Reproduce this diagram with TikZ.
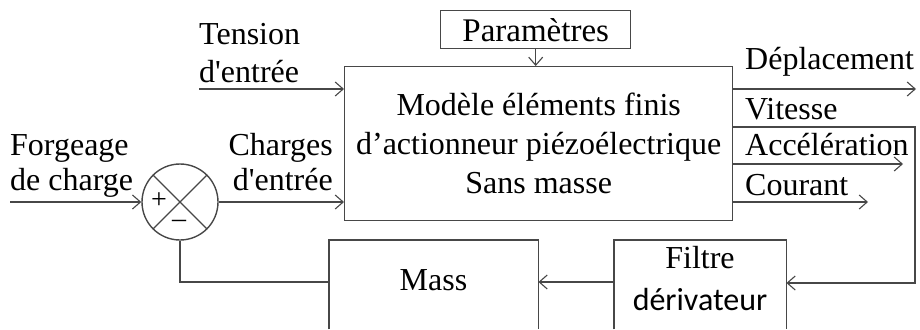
\documentclass[tikz,border=0pt]{standalone}
\usepackage{fontspec}
\newfontfamily\fa{Liberation Serif}
\newfontfamily\fc{Carlito}
\usetikzlibrary{arrows.meta}
\begin{document}
\begin{tikzpicture}[x=1pt,y=-1pt,
  line/.style={draw=black!72,line width=1.4pt},
  arr/.style={line,-{Straight Barb[length=8pt,width=14pt,line width=1.1pt]}},
  blk/.style={draw=black!72,line width=1.4pt,rectangle,inner sep=0pt},
  openbox/.style={rectangle,inner sep=0pt},
  lbl/.style={inner sep=0pt,font=\fa\fontsize{32}{39}\selectfont}]
\useasboundingbox (0,0) rectangle (920,329);
% blocks
\node[blk,lbl,anchor=north west,minimum width=388pt,minimum height=154pt,align=center] (model) at (344,66)
  {Modèle éléments finis\\d’actionneur piézoélectrique\\Sans masse};
\node[blk,lbl,anchor=north west,minimum width=190pt,minimum height=38pt,font=\fa\fontsize{33}{39}\selectfont] (param) at (440,10) {Paramètres};
\node[blk,circle,minimum size=76pt] (sum) at (180,202) {};
\draw[line,line width=1.1pt] (sum.north west) -- (sum.south east) (sum.north east) -- (sum.south west);
\node[lbl,font=\fa\fontsize{28}{30}\selectfont] (plus) at (159,201) {+};
\node[lbl,font=\fa\fontsize{28}{30}\selectfont] (minus) at (179,224) {–};
\node[openbox,anchor=north west,minimum width=209pt,minimum height=89pt] (mass) at (329,240) {};
\node[openbox,anchor=north west,minimum width=172pt,minimum height=89pt] (filtre) at (614,240) {};
\draw[line] (mass.south west) -- (mass.north west) -- (mass.north east) -- (mass.south east);
\draw[line] (filtre.south west) -- (filtre.north west) -- (filtre.north east) -- (filtre.south east);
\node[lbl,anchor=base] (masst) at (433.5,290) {Mass};
\node[lbl,anchor=base] (filtret) at (700,268) {Filtre};
\node[lbl,anchor=base,font=\fc\fontsize{32}{39}\selectfont] (derivt) at (700,310) {dérivateur};
% labels
\node[lbl,anchor=base west] (tension) at (199,45) {Tension};
\node[lbl,anchor=base west] (tension2) at (199,82) {d'entrée};
\node[lbl,anchor=base west] (forg) at (10,155) {Forgeage};
\node[lbl,anchor=base west] (forg2) at (10,190) {de charge};
\node[lbl,anchor=base east] (charg) at (333,155) {Charges};
\node[lbl,anchor=base east] (charg2) at (333,190) {d'entrée};
\node[lbl,anchor=base west] (depl) at (745,70) {Déplacement};
\node[lbl,anchor=base west] (vit) at (745,119) {Vitesse};
\node[lbl,anchor=base west] (acc) at (745,155) {Accélération};
\node[lbl,anchor=base west] (cour) at (745,195) {Courant};
% coordinates
\coordinate (tin) at (199,89);
\coordinate (fin) at (10,202);
\coordinate (dout) at (916,89);
\coordinate (vc1) at (915,127);
\coordinate (vc2) at (915,283);
\coordinate (aout) at (903,164);
\coordinate (cout) at (868,202);
\coordinate (fb) at (180,282);
% connectors
\draw[arr] (param.south) -- (param.south |- model.north);
\draw[arr] (tin) -- (tin -| model.west);
\draw[arr] (fin) -- (sum.west);
\draw[arr] (sum.east) -- (sum.east -| model.west);
\draw[arr] (model.east |- dout) -- (dout);
\draw[arr] (model.east |- vc1) -- (vc1) -- (vc2) -- (vc2 -| filtre.east);
\draw[arr] (model.east |- aout) -- (aout);
\draw[arr] (model.east |- cout) -- (cout);
\draw[arr] (filtre.west |- fb) -- (fb -| mass.east);
\draw[line] (mass.west |- fb) -- (fb) -- (sum.south);
\end{tikzpicture}
\end{document}
